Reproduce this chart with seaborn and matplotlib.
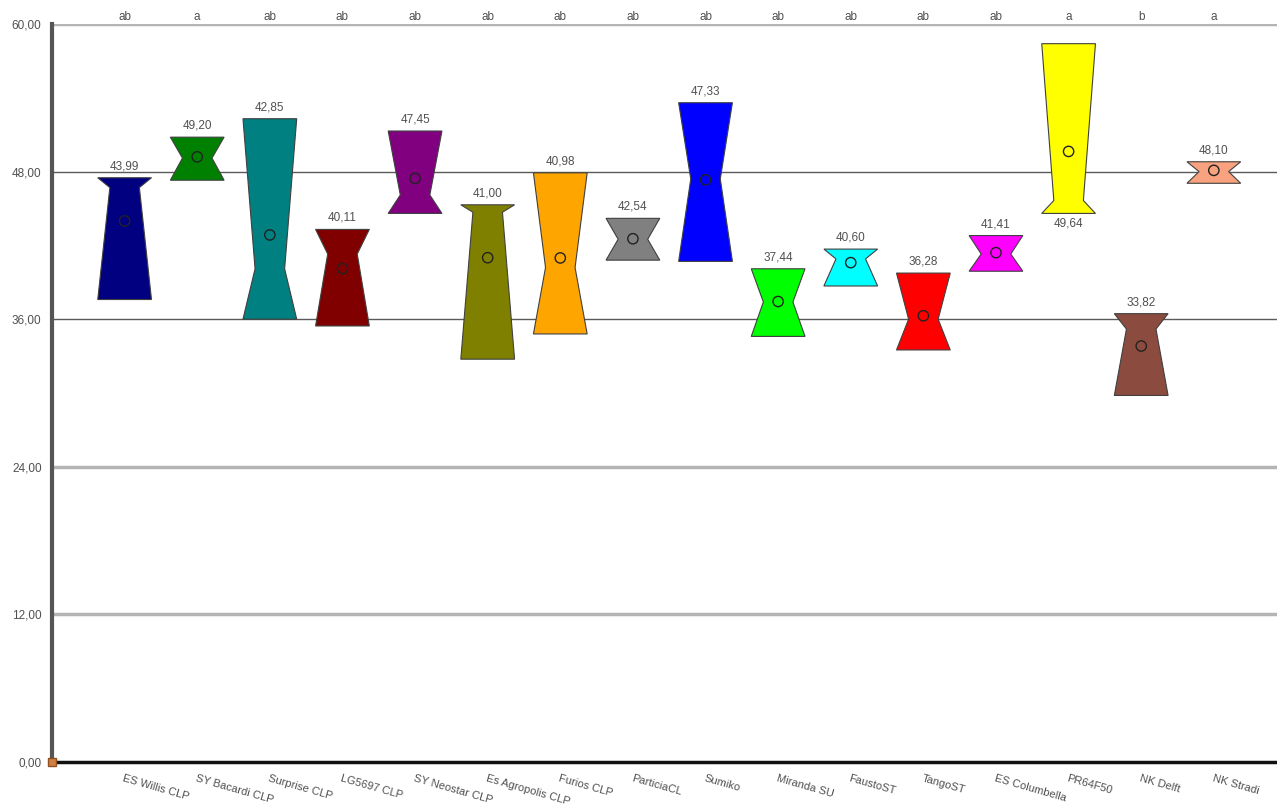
import numpy as np
import pandas as pd
import seaborn as sns
import matplotlib.pyplot as plt

# data
categories = ["ES Willis CLP", "SY Bacardi CLP", "Surprise CLP", "LG5697 CLP",
              "SY Neostar CLP", "Es Agropolis CLP", "Furios CLP", "ParticiaCL",
              "Sumiko", "Miranda SU", "FaustoST", "TangoST", "ES Columbella",
              "PR64F50", "NK Delft", "NK Stradi"]
upper = [47.5, 50.8, 52.3, 43.3, 51.3, 45.3, 47.9, 44.2,
         53.6, 40.1, 41.7, 39.75, 42.8, 58.4, 36.45, 48.8]
middle = [46.7, 49.1, 40.1, 41.3, 46.1, 44.7, 40.2, 42.5,
          47.4, 37.4, 40.9, 36.0, 41.3, 45.65, 35.2, 48.0]
lower = [37.6, 47.3, 36.0, 35.45, 44.6, 32.75, 34.8, 40.8,
         40.7, 34.6, 38.7, 33.5, 39.9, 44.6, 29.8, 47.05]
means = [43.99, 49.20, 42.85, 40.11, 47.45, 41.00, 40.98, 42.54,
         47.33, 37.44, 40.60, 36.28, 41.41, 49.64, 33.82, 48.10]
letters = ["ab", "a", "ab", "ab", "ab", "ab", "ab", "ab",
           "ab", "ab", "ab", "ab", "ab", "a", "b", "a"]
colors = ["#000080", "#008000", "#008080", "#800000", "#800080", "#808000",
          "#FFA500", "#808080", "#0000FF", "#00FF00", "#00FFFF", "#FF0000",
          "#FF00FF", "#FFFF00", "#8B4B3E", "#F9A27F"]
yticks = [0, 12, 24, 36, 48, 60]

df = pd.DataFrame({"cat": categories, "pos": np.arange(len(categories)),
                   "upper": upper, "middle": middle, "lower": lower,
                   "mean": means, "letter": letters})

sns.set_theme(style="white")
plt.rcParams['font.family'] = ['Liberation Sans', 'DejaVu Sans']
txt = "#505050"

fig = plt.figure(figsize=(12.77, 8.08), dpi=100)
ax = fig.add_axes([52 / 1277, 46 / 808, 1 - 52 / 1277, 738 / 808])

# grid lines
for g in [12, 24, 60]:
    ax.axhline(g, color="#b4b4b4", lw=2.5, zorder=1)
for g in [36, 48]:
    ax.axhline(g, color="#5a5a5a", lw=1.0, zorder=1)

w = 0.37
nw = 0.55 * w
for _, r in df.iterrows():
    i = r["pos"]
    xs = [i - w, i + w, i + nw, i + w, i - w, i - nw]
    ys = [r["upper"], r["upper"], r["middle"], r["lower"], r["lower"], r["middle"]]
    ax.fill(xs, ys, color=colors[i], ec="#404040", lw=0.8, zorder=3)
    lab = f"{r['mean']:.2f}".replace(".", ",")
    if r["upper"] > 56:
        ax.annotate(lab, (i, r["lower"]), xytext=(0, -3), textcoords="offset points",
                    ha="center", va="top", fontsize=8.5, color=txt)
    else:
        ax.annotate(lab, (i, r["upper"]), xytext=(0, 4), textcoords="offset points",
                    ha="center", va="bottom", fontsize=8.5, color=txt)
    ax.annotate(r["letter"], (i, 60), xytext=(0, 1), textcoords="offset points",
                ha="center", va="bottom", fontsize=8.5, color=txt, annotation_clip=False)

sns.scatterplot(data=df, x="pos", y="mean", ax=ax, marker="o", s=55,
                facecolor="none", edgecolor="#222222", linewidth=1.0, zorder=4,
                legend=False)

# odd little square at the origin
ax.plot([-1], [0], marker="s", ms=6, color="#d08040", mec="#905020",
        clip_on=False, zorder=6)

ax.set_xlim(-1, 15.87)
ax.set_ylim(0, 60)
ax.set_xlabel("")
ax.set_ylabel("")
ax.set_yticks(yticks)
ax.set_yticklabels([f"{v:.2f}".replace(".", ",") for v in yticks], fontsize=8.5, color=txt)
ax.set_xticks(df["pos"])
ax.set_xticklabels(categories, rotation=-16, ha="left", va="top",
                   rotation_mode="anchor", fontsize=8, color=txt)
ax.tick_params(axis="y", direction="inout", length=7, width=1.2, color="#222222", pad=4)
ax.tick_params(axis="x", direction="inout", length=8, width=1.2, color="#222222", pad=4)

for s in ["top", "right"]:
    ax.spines[s].set_visible(False)
ax.spines["left"].set_color("#555555")
ax.spines["left"].set_linewidth(3)
ax.spines["bottom"].set_color("#111111")
ax.spines["bottom"].set_linewidth(2.5)
ax.set_facecolor("white")

fig.savefig("out.png", dpi=100)
